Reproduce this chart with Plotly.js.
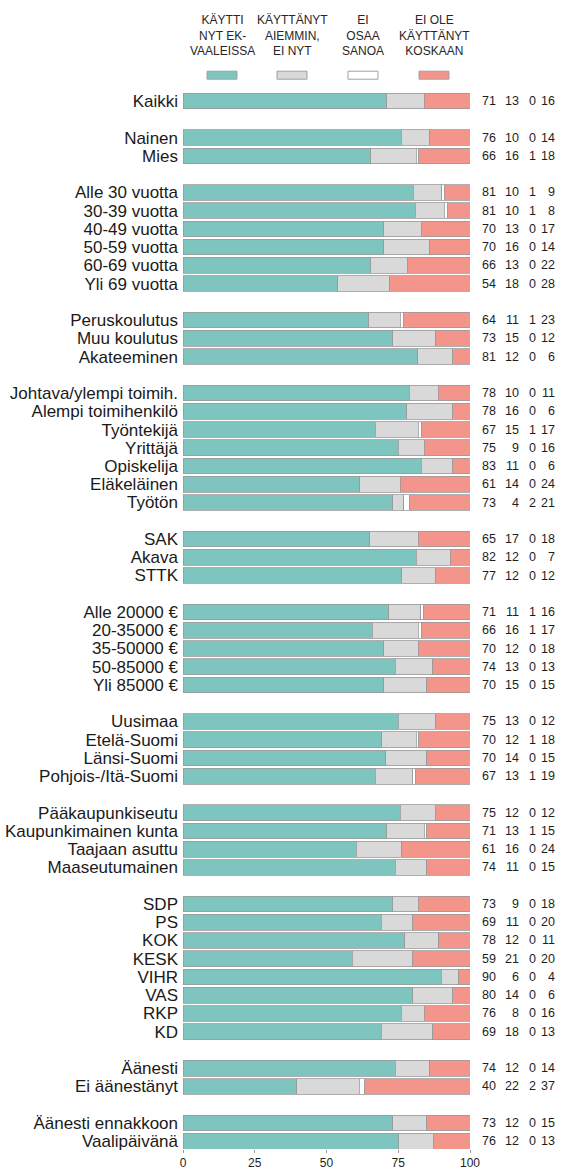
<!DOCTYPE html>
<html>
<head>
<meta charset="utf-8">
<script src="https://cdn.plot.ly/plotly-3.0.1.min.js"></script>
<style>
html,body{margin:0;padding:0;background:#fff;}
#chart{width:569px;height:1171px;}
</style>
</head>
<body>
<div id="chart"></div>
<script>
const categories = [
  'Kaikki',
  'Nainen','Mies',
  'Alle 30 vuotta','30-39 vuotta','40-49 vuotta','50-59 vuotta','60-69 vuotta','Yli 69 vuotta',
  'Peruskoulutus','Muu koulutus','Akateeminen',
  'Johtava/ylempi toimih.','Alempi toimihenkilö','Työntekijä','Yrittäjä','Opiskelija','Eläkeläinen','Työtön',
  'SAK','Akava','STTK',
  'Alle 20000 €','20-35000 €','35-50000 €','50-85000 €','Yli 85000 €',
  'Uusimaa','Etelä-Suomi','Länsi-Suomi','Pohjois-/Itä-Suomi',
  'Pääkaupunkiseutu','Kaupunkimainen kunta','Taajaan asuttu','Maaseutumainen',
  'SDP','PS','KOK','KESK','VIHR','VAS','RKP','KD',
  'Äänesti','Ei äänestänyt',
  'Äänesti ennakkoon','Vaalipäivänä'
];
const groupSizes = [1,2,6,3,7,3,5,4,4,8,2,2];

const usedNow    = [71, 76,66, 81,81,70,70,66,54, 64,73,81, 78,78,67,75,83,61,73, 65,82,77, 71,66,70,74,70, 75,70,70,67, 75,71,61,74, 73,69,78,59,90,80,76,69, 74,40, 73,76];
const usedBefore = [13, 10,16, 10,10,13,16,13,18, 11,15,12, 10,16,15, 9,11,14, 4, 17,12,12, 11,16,12,13,15, 13,12,14,13, 12,13,16,11,  9,11,12,21, 6,14, 8,18, 12,22, 12,12];
const dontKnow   = [ 0,  0, 1,  1, 1, 0, 0, 0, 0,  1, 0, 0,  0, 0, 1, 0, 0, 0, 2,  0, 0, 0,  1, 1, 0, 0, 0,  0, 1, 0, 1,  0, 1, 0, 0,  0, 0, 0, 0, 0, 0, 0, 0,  0, 2,  0, 0];
const neverUsed  = [16, 14,18,  9, 8,17,14,22,28, 23,12, 6, 11, 6,17,16, 6,24,21, 18, 7,12, 16,17,18,13,15, 12,18,15,19, 12,15,24,15, 18,20,11,20, 4, 6,16,13, 14,37, 15,13];

const seriesNames = ['KÄYTTI<br>NYT EK-<br>VAALEISSA','KÄYTTÄNYT<br>AIEMMIN,<br>EI NYT','EI<br>OSAA<br>SANOA','EI OLE<br>KÄYTTÄNYT<br>KOSKAAN'];
const seriesColors = ['#7fc5bf','#d9d9d9','#ffffff','#f3958b'];
const xTicks = [0,25,50,75,100];

// layout geometry (pixels)
const W = 569, H = 1171;
const L = 183, R = 11;
const T = 91.8, B = 22;
const plotW = W - L - R, plotH = H - T - B;
const mainRight = 470;
const xDomEnd = (mainRight - L) / plotW;
const px = v => (v - L) / plotW;
const py = v => 1 - (v - T) / plotH;

// slot positions with a blank slot between groups
const yPos = [];
let slot = 0;
groupSizes.forEach(n => { for (let i = 0; i < n; i++) yPos.push(slot++); slot++; });
const lastSlot = yPos[yPos.length - 1];

const series = [usedNow, usedBefore, dontKnow, neverUsed];
const totals = categories.map((_, i) => series.reduce((s, a) => s + a[i], 0));

const traces = series.map((vals, k) => ({
  type: 'bar',
  orientation: 'h',
  name: seriesNames[k].replace(/<br>/g, ' '),
  y: yPos,
  x: vals.map((v, i) => v / totals[i] * 100),
  text: vals.map(String),
  hovertemplate: '%{text}<extra></extra>',
  textposition: 'none',
  marker: {color: seriesColors[k], line: {color: '#9a9a9a', width: 0.8}},
  showlegend: false
}));

const annotations = [];
const colRight = [498, 521, 538, 557];
series.forEach((vals, k) => {
  vals.forEach((v, i) => {
    annotations.push({
      xref: 'paper', yref: 'y', x: px(colRight[k]), y: yPos[i],
      text: String(v), showarrow: false, xanchor: 'right', yanchor: 'middle',
      font: {size: 12.5, color: '#1e1e1e', family: 'Liberation Sans, Arial, sans-serif'}
    });
  });
});

// legend (header texts + swatches)
const legCenters = [222, 292, 363, 434];
const shapes = [];
seriesNames.forEach((nm, k) => {
  annotations.push({
    xref: 'paper', yref: 'paper', x: px(legCenters[k]), y: py(11),
    text: nm, showarrow: false, xanchor: 'center', yanchor: 'top', align: 'center',
    font: {size: 12, color: '#262626', family: 'Liberation Sans Narrow, Arial Narrow, Liberation Sans, sans-serif'}
  });
  shapes.push({
    type: 'rect', xref: 'paper', yref: 'paper',
    x0: px(legCenters[k] - 15), x1: px(legCenters[k] + 15),
    y0: py(79), y1: py(71),
    fillcolor: seriesColors[k], line: {color: '#a0a0a0', width: 1}
  });
});

const layout = {
  width: W, height: H,
  margin: {l: L, r: R, t: T, b: B, pad: 0},
  paper_bgcolor: '#fff', plot_bgcolor: '#fff',
  barmode: 'stack', bargap: 0.14,
  font: {family: 'Liberation Sans, Arial, sans-serif', color: '#222'},
  xaxis: {
    domain: [0, xDomEnd], range: [0, 100], fixedrange: true,
    tickvals: xTicks, ticktext: xTicks.map(String),
    ticks: 'outside', ticklen: 3, tickcolor: '#999', tickwidth: 1,
    showgrid: false, zeroline: false, showline: false,
    tickfont: {size: 12, color: '#1e1e1e'}
  },
  yaxis: {
    range: [lastSlot + 0.43, -0.5], fixedrange: true,
    tickvals: yPos, ticktext: categories,
    ticks: '', showgrid: false, zeroline: false, showline: false,
    tickfont: {size: 17, color: '#1a1a1a'},
    ticklabelstandoff: 4
  },
  annotations: annotations,
  shapes: shapes
};

Plotly.newPlot('chart', traces, layout, {displayModeBar: false, staticPlot: true});
</script>
</body>
</html>
